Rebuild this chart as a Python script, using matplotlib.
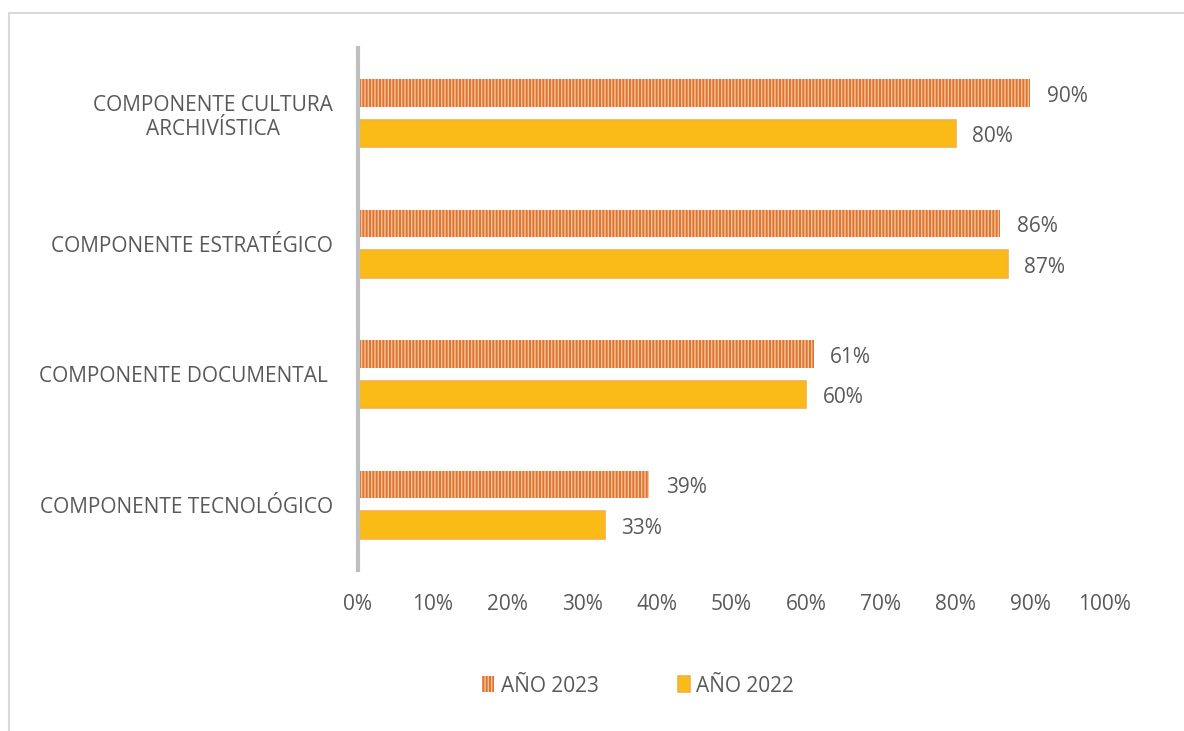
import numpy as np
import matplotlib.pyplot as plt
from matplotlib.patches import Rectangle

plt.rcParams['font.family'] = ['Open Sans', 'DejaVu Sans']
plt.rcParams['hatch.linewidth'] = 1.0

componentes = ['COMPONENTE CULTURA\nARCHIVÍSTICA', 'COMPONENTE ESTRATÉGICO',
               'COMPONENTE DOCUMENTAL ', 'COMPONENTE TECNOLÓGICO']
anio_2023 = [90, 86, 61, 39]
anio_2022 = [80, 87, 60, 33]
ticks = [0, 10, 20, 30, 40, 50, 60, 70, 80, 90, 100]

gris = '#595959'
fs = 15
fig = plt.figure(figsize=(11.84, 7.31), dpi=100)
# marco exterior
fig.patches.append(Rectangle((9 / 1184, -0.01), 1.02, 1 - 13 / 731 + 0.01,
                             transform=fig.transFigure, fill=False,
                             edgecolor='#D9D9D9', linewidth=1.5))

ax = fig.add_axes([358 / 1184, 1 - 570 / 731, (1105 - 358) / 1184, (570 - 48) / 731])

y = np.arange(len(componentes))[::-1].astype(float)
h = 0.21
off = 0.155

b23 = ax.barh(y + off, anio_2023, height=h, color='#DE7430', edgecolor='#F6C49C',
              hatch='|||||', linewidth=0, label='AÑO 2023')
b22 = ax.barh(y - off, anio_2022, height=h, color='#FBBB16', edgecolor='#F5B04A',
              linewidth=1.2, label='AÑO 2022')

# etiquetas de valor a la derecha de cada barra
for yy, v in zip(y + off, anio_2023):
    ax.text(v + 2.2, yy - 0.025, f'{v}%', va='center', ha='left', fontsize=fs, color=gris)
for yy, v in zip(y - off, anio_2022):
    ax.text(v + 2.2, yy - 0.025, f'{v}%', va='center', ha='left', fontsize=fs, color=gris)

ax.set_xlim(0, 100)
ax.set_ylim(-0.5, 3.5)
ax.set_xticks(ticks)
ax.set_xticklabels([f'{t}%' for t in ticks])
ax.set_yticks(y)
ax.set_yticklabels(componentes, multialignment='center')
ax.tick_params(axis='both', length=0, labelsize=fs, colors=gris)
ax.tick_params(axis='x', pad=17)
ax.tick_params(axis='y', pad=18)

for s in ['top', 'right', 'bottom']:
    ax.spines[s].set_visible(False)
ax.spines['left'].set_color('#BFBFBF')
ax.spines['left'].set_linewidth(3)

leg = fig.legend(handles=[b23, b22], loc='center', bbox_to_anchor=(638 / 1184, 1 - 686 / 731),
                 ncol=2, frameon=False, fontsize=fs, handlelength=0.6, handleheight=0.8,
                 handletextpad=0.3, columnspacing=3.8, labelcolor=gris)

fig.savefig('out.png', dpi=100)
